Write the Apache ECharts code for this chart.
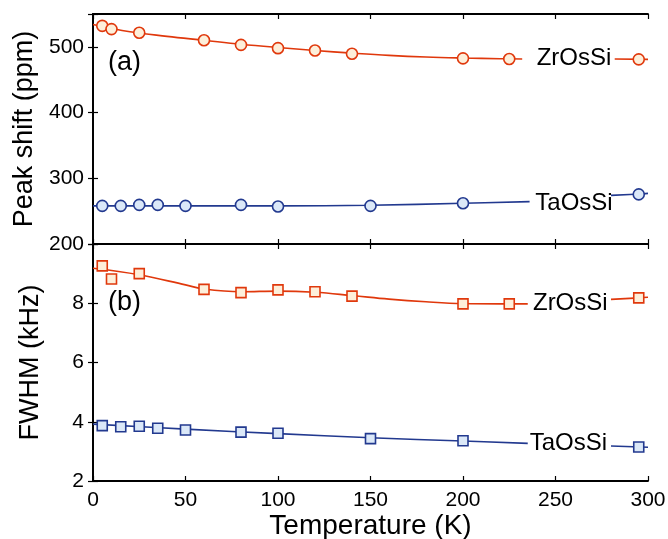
<!DOCTYPE html>
<html>
<head>
<meta charset="utf-8">
<script src="https://cdn.jsdelivr.net/npm/echarts@6/dist/echarts.min.js"></script>
<style>
  html, body { margin: 0; padding: 0; background: #fff; }
  #chart { width: 668px; height: 539px; }
</style>
</head>
<body>
<div id="chart"></div>
<script>
// Measured data: temperature (K) and values
const zrShiftT = [5, 10, 25, 60, 80, 100, 120, 140, 200, 225, 295];
const zrShift  = [532, 527, 521.5, 510, 503, 498, 494.5, 489.5, 482.5, 481.5, 481];
const taShiftT = [5, 15, 25, 35, 50, 80, 100, 150, 200, 295];
const taShift  = [258, 258, 259.5, 259.5, 258, 259.5, 257, 258, 262, 275.5];
const zrFwhmT  = [5, 10, 25, 60, 80, 100, 120, 140, 200, 225, 295];
const zrFwhm   = [9.26, 8.82, 9.0, 8.47, 8.36, 8.45, 8.39, 8.24, 7.98, 7.98, 8.18];
const taFwhmT  = [5, 15, 25, 35, 50, 80, 100, 150, 200, 295];
const taFwhm   = [3.87, 3.83, 3.85, 3.78, 3.72, 3.65, 3.61, 3.43, 3.36, 3.15];

// Guide curves (null marks the break where the compound name sits)
const zrShiftFitT = [0, 20, 40, 60, 80, 100, 120, 140, 160, 180, 200, 220, 232, 256, 282, 300];
const zrShiftFit  = [534, 523, 516, 510, 504, 499, 494.5, 490.5, 487, 484.5, 483, 482, 481.5, null, 481.5, 481];
const taShiftFitT = [0, 50, 100, 150, 200, 236, 258, 280, 295, 300];
const taShiftFit  = [258, 258, 258, 259, 262, 264.5, null, 274, 276, 277];
const zrFwhmFitT  = [0, 25, 50, 60, 80, 100, 120, 140, 160, 180, 200, 220, 235, 258, 280, 295, 300];
const zrFwhmFit   = [9.18, 8.96, 8.62, 8.48, 8.39, 8.41, 8.37, 8.26, 8.14, 8.05, 7.99, 7.98, 7.98, null, 8.13, 8.18, 8.2];
const taFwhmFitT  = [0, 50, 100, 150, 200, 235, 258, 280, 300];
const taFwhmFit   = [3.92, 3.75, 3.6, 3.46, 3.35, 3.27, null, 3.18, 3.14];

// Tick labels
const xTicks = [0, 50, 100, 150, 200, 250, 300];
const shiftTicks = [200, 300, 400, 500];
const fwhmTicks = [2, 4, 6, 8];

const RED = '#e0380c', RED_FILL = '#fdefda';
const BLUE = '#22398f', BLUE_FILL = '#dbe8f8';
const FONT = 'Liberation Sans, Arial, Helvetica, sans-serif';

const pair = (xs, ys) => xs.map((x, i) => [x, ys[i]]);

const tickStyle = { inside: true, length: 5, lineStyle: { color: '#000', width: 1.2 } };
const lineAxis = { show: true, lineStyle: { color: '#000', width: 1.8 } };

function xAx(grid, pos, labels) {
  return {
    type: 'value', gridIndex: grid, position: pos, min: 0, max: 300, interval: 50,
    axisLine: lineAxis, axisTick: tickStyle, splitLine: { show: false },
    axisLabel: labels ? {
      show: true, color: '#000', fontSize: 21, fontFamily: FONT, margin: 9,
      formatter: v => xTicks.includes(v) ? String(v) : ''
    } : { show: false },
    name: labels ? 'Temperature (K)' : '',
    nameLocation: 'middle', nameGap: 31,
    nameTextStyle: { color: '#000', fontSize: 28, fontFamily: FONT }
  };
}
function yAx(grid, pos, min, max, interval, ticks, name) {
  return {
    type: 'value', gridIndex: grid, position: pos, min, max, interval,
    axisLine: lineAxis, axisTick: tickStyle, splitLine: { show: false },
    axisLabel: name ? {
      show: true, color: '#000', fontSize: 21, fontFamily: FONT, margin: 9,
      formatter: v => ticks.includes(v) ? String(v) : ''
    } : { show: false },
    name: name || '', nameLocation: 'middle', nameGap: 49,
    nameTextStyle: { color: '#000', fontSize: 27, fontFamily: FONT }
  };
}

function markers(name, xi, yi, data, symbol, size, color, fill) {
  return {
    name, type: 'scatter', xAxisIndex: xi, yAxisIndex: yi, data,
    symbol, symbolSize: size, z: 5,
    itemStyle: { color: fill, borderColor: color, borderWidth: 1.6, opacity: 1 }
  };
}
function curve(xi, yi, data, color) {
  return {
    type: 'line', xAxisIndex: xi, yAxisIndex: yi, data, smooth: 0.4,
    showSymbol: false, connectNulls: false, z: 3,
    lineStyle: { color, width: 1.6 }
  };
}
function tag(xi, yi, x, y, text) {
  return {
    type: 'scatter', xAxisIndex: xi, yAxisIndex: yi, data: [[x, y]],
    symbolSize: 0, silent: true, itemStyle: { opacity: 1 },
    label: { show: true, position: 'inside', formatter: text, color: '#000',
             opacity: 1, textBorderWidth: 0, fontSize: 24, fontFamily: FONT }
  };
}

const chart = echarts.init(document.getElementById('chart'), null, { renderer: 'canvas' });
chart.setOption({
  animation: false,
  backgroundColor: '#fff',
  grid: [
    { left: 93, right: 20, top: 14, height: 230, outerBoundsMode: 'none', containLabel: false },
    { left: 93, right: 20, top: 244, height: 237, outerBoundsMode: 'none', containLabel: false }
  ],
  xAxis: [
    xAx(0, 'bottom', false), xAx(0, 'top', false),
    xAx(1, 'bottom', true), xAx(1, 'top', false)
  ],
  yAxis: [
    yAx(0, 'left', 200, 550, 100, shiftTicks, 'Peak shift (ppm)'), yAx(0, 'right', 200, 550, 100, shiftTicks, null),
    yAx(1, 'left', 2, 10, 2, fwhmTicks, 'FWHM (kHz)'), yAx(1, 'right', 2, 10, 2, fwhmTicks, null)
  ],
  series: [
    curve(0, 0, pair(zrShiftFitT, zrShiftFit), RED),
    curve(0, 0, pair(taShiftFitT, taShiftFit), BLUE),
    curve(2, 2, pair(zrFwhmFitT, zrFwhmFit), RED),
    curve(2, 2, pair(taFwhmFitT, taFwhmFit), BLUE),
    markers('ZrOsSi', 0, 0, pair(zrShiftT, zrShift), 'circle', 11, RED, RED_FILL),
    markers('TaOsSi', 0, 0, pair(taShiftT, taShift), 'circle', 11, BLUE, BLUE_FILL),
    markers('ZrOsSi', 2, 2, pair(zrFwhmT, zrFwhm), 'rect', 10, RED, RED_FILL),
    markers('TaOsSi', 2, 2, pair(taFwhmT, taFwhm), 'rect', 10, BLUE, BLUE_FILL),
    tag(0, 0, 260, 482, 'ZrOsSi'),
    tag(0, 0, 260, 262.5, 'TaOsSi'),
    tag(2, 2, 258, 8.0, 'ZrOsSi'),
    tag(2, 2, 257, 3.28, 'TaOsSi')
  ],
  graphic: [
    { type: 'text', left: 108, top: 49, style: { text: '(a)', font: '27px ' + FONT, fill: '#000' } },
    { type: 'text', left: 108, top: 289, style: { text: '(b)', font: '27px ' + FONT, fill: '#000' } }
  ]
});
</script>
</body>
</html>
